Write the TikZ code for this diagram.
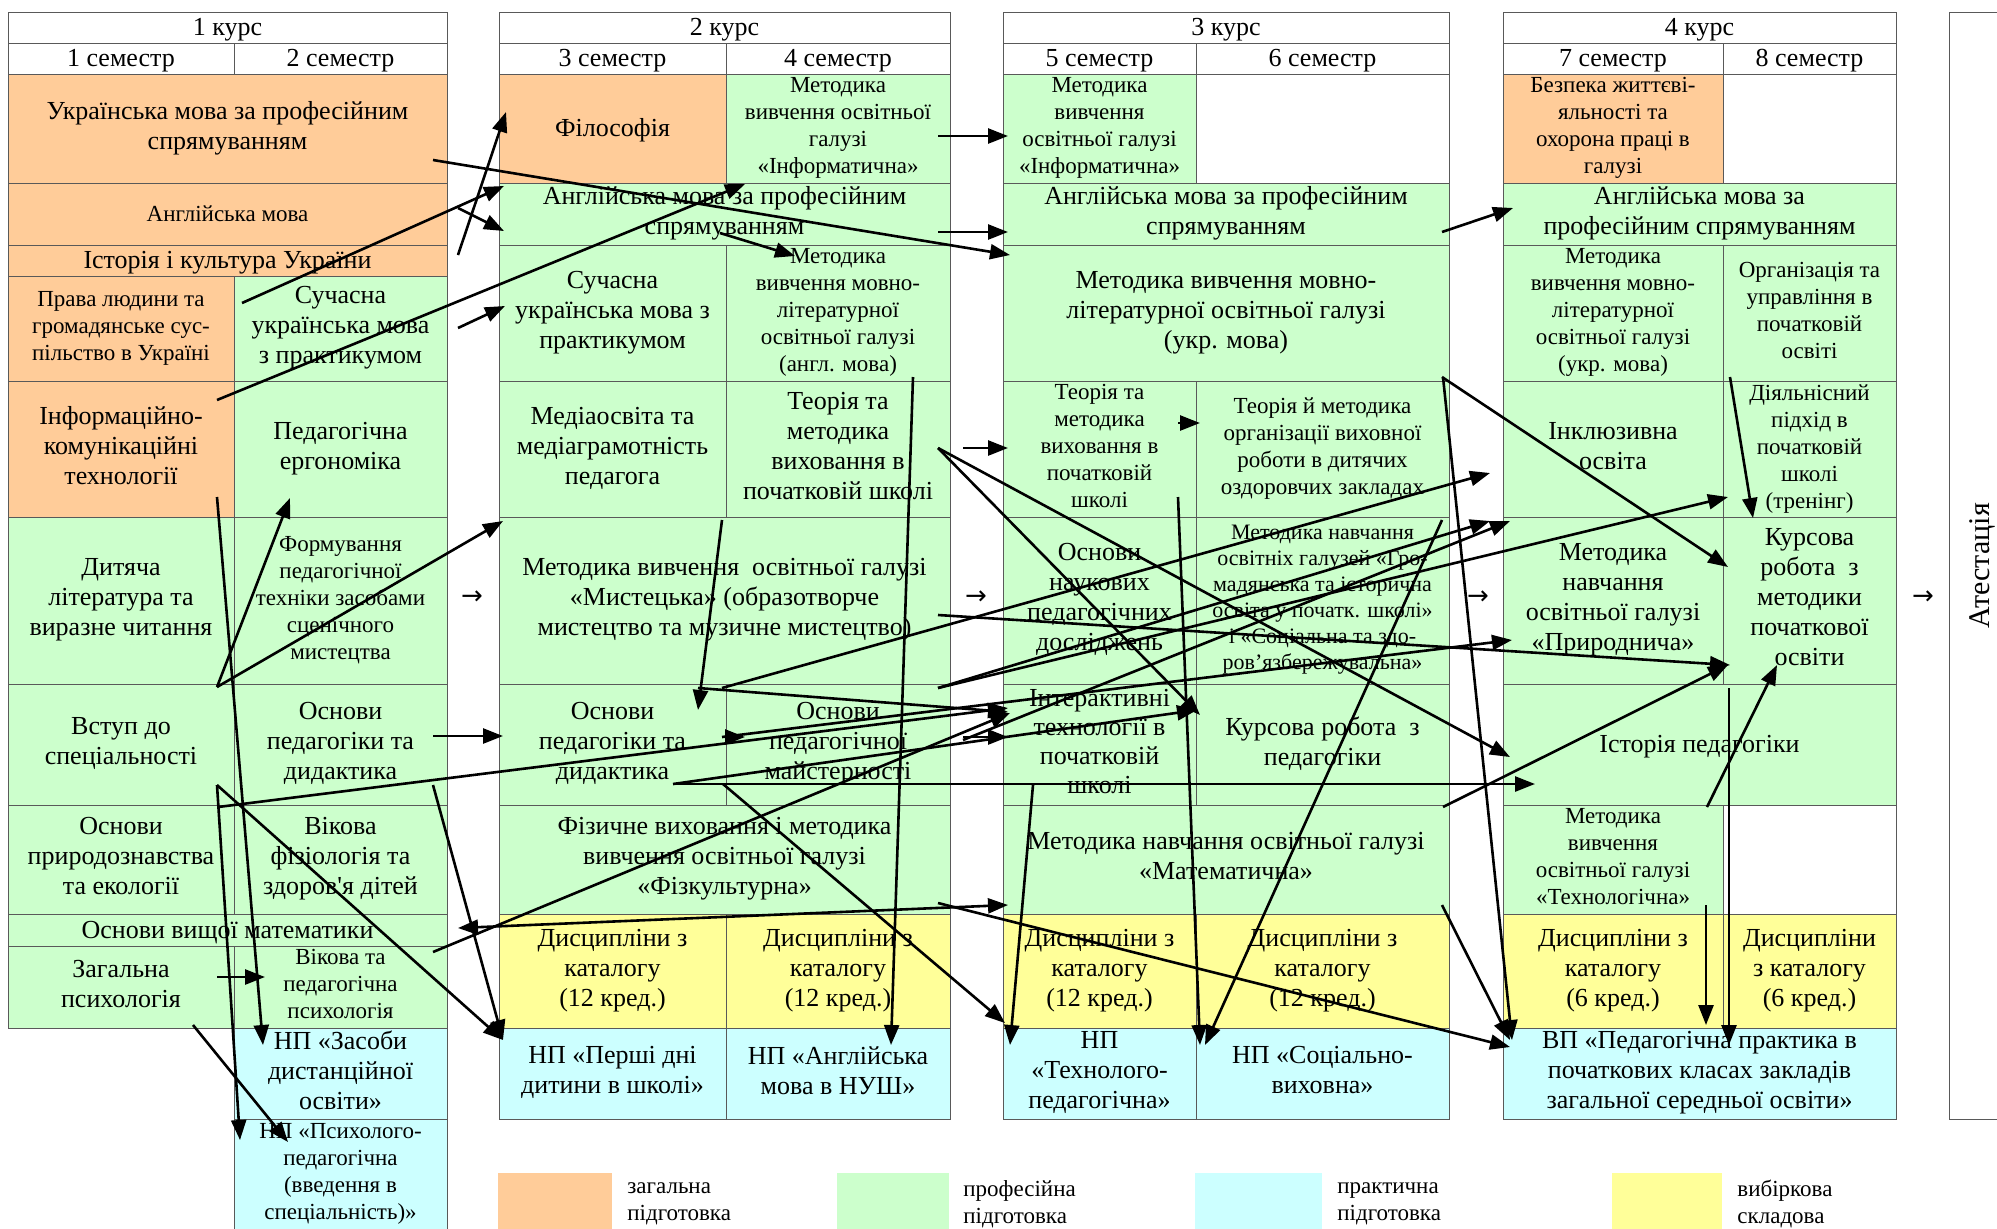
\documentclass[tikz,border=0pt]{standalone}
\usepackage{fontspec}
\setmainfont{Liberation Serif}
\newfontfamily\apofont{Liberation Serif}[Ligatures=TeXOff]
\newfontfamily\symfont{DejaVu Sans}
\usepackage{xcolor}
\usetikzlibrary{arrows.meta}
\definecolor{genc}{HTML}{FFCC99}
\definecolor{profc}{HTML}{CCFFCC}
\definecolor{pracc}{HTML}{CCFFFF}
\definecolor{optc}{HTML}{FFFF99}
\newcommand{\cstrut}{\rule[-0.25em]{0pt}{1.15em}}
% клітинка схеми: [стиль]{ім'я}{x1}{y1}{x2}{y2}{текст}
\newcommand{\cellbox}[7][]{\node[cell,#1,minimum width={(#5-#3)*0.5pt},minimum height={(#6-#4)*0.5pt}] (#2) at ({(#3+#5)/2},{(#4+#6)/2}) {#7};}

\begin{document}
\begin{tikzpicture}[x=0.5pt,y=-0.5pt,
  cell/.style={draw=black!65,line width=0.5pt,inner sep=0pt,outer sep=0pt,align=center,
    font=\fontsize{13}{15}\selectfont,
    execute at begin node=\cstrut,execute at end node=\cstrut},
  sm/.style={font=\fontsize{11.5}{13.5}\selectfont},
  xs/.style={font=\fontsize{11}{13}\selectfont},
  gen/.style={fill=genc},prof/.style={fill=profc},prac/.style={fill=pracc},opt/.style={fill=optc},
  swatch/.style={draw=none},
  arr/.style={line width=1.3pt,-{Triangle[length=10pt,width=7.5pt]}},
  arrs/.style={line width=1.3pt,{Triangle[length=10pt,width=7.5pt]}-{Triangle[length=10pt,width=7.5pt]}},
  legtext/.style={anchor=west,align=left,inner sep=0pt,font=\fontsize{11.5}{13.5}\selectfont},
  nxt/.style={inner sep=0pt,font=\symfont\fontsize{13}{14}\selectfont}]
\useasboundingbox (0,0) rectangle (1997,1228);

% 1 курс
\cellbox{k1}{8}{12}{447}{43}{1 курс}
\cellbox{s1}{8}{43}{234}{74}{1 семестр}
\cellbox{s2}{234}{43}{447}{74}{2 семестр}
\cellbox[gen]{c1a}{8}{74}{447}{183}{Українська мова за професійним\\спрямуванням}
\cellbox[gen,sm]{c1b}{8}{183}{447}{245}{Англійська мова}
\cellbox[gen]{c1c}{8}{245}{447}{276}{Історія і культура України}
\cellbox[gen,sm]{c1d}{8}{276}{234}{381}{Права людини та\\громадянське сус-\\пільство в Україні}
\cellbox[prof]{c1e}{234}{276}{447}{381}{Сучасна\\українська мова\\з практикумом}
\cellbox[gen]{c1f}{8}{381}{234}{517}{Інформаційно-\\комунікаційні\\технології}
\cellbox[prof]{c1g}{234}{381}{447}{517}{Педагогічна\\ергономіка}
\cellbox[prof]{c1h}{8}{517}{234}{684}{Дитяча\\література та\\виразне читання}
\cellbox[prof,sm]{c1i}{234}{517}{447}{684}{Формування\\педагогічної\\техніки засобами\\сценічного\\мистецтва}
\cellbox[prof]{c1j}{8}{684}{234}{805}{Вступ до\\спеціальності}
\cellbox[prof]{c1k}{234}{684}{447}{805}{Основи\\педагогіки та\\дидактика}
\cellbox[prof]{c1l}{8}{805}{234}{914}{Основи\\природознавства\\та екології}
\cellbox[prof]{c1m}{234}{805}{447}{914}{Вікова\\фізіологія та\\здоров{\apofont '}я дітей}
\cellbox[prof]{c1n}{8}{914}{447}{946}{Основи вищої математики}
\cellbox[prof]{c1o}{8}{946}{234}{1028}{Загальна\\психологія}
\cellbox[prof,sm]{c1p}{234}{946}{447}{1028}{Вікова та\\педагогічна\\психологія}
\cellbox[prac]{c1q}{234}{1028}{447}{1119}{НП «Засоби\\дистанційної\\освіти»}
\cellbox[prac,sm]{c1r}{234}{1119}{447}{1230}{НП «Психолого-\\педагогічна\\(введення в\\спеціальність)»}

% 2 курс
\cellbox{k2}{499}{12}{950}{43}{2 курс}
\cellbox{s3}{499}{43}{726}{74}{3 семестр}
\cellbox{s4}{726}{43}{950}{74}{4 семестр}
\cellbox[gen]{c2a}{499}{74}{726}{183}{Філософія}
\cellbox[prof,sm]{c2b}{726}{74}{950}{183}{Методика\\вивчення освітньої\\галузі\\«Інформатична»}
\cellbox[prof]{c2c}{499}{183}{950}{245}{Англійська мова за професійним\\спрямуванням}
\cellbox[prof]{c2d}{499}{245}{726}{381}{Сучасна\\українська мова з\\практикумом}
\cellbox[prof,sm]{c2e}{726}{245}{950}{381}{Методика\\вивчення мовно-\\літературної\\освітньої галузі\\(англ. мова)}
\cellbox[prof]{c2f}{499}{381}{726}{517}{Медіаосвіта та\\медіаграмотність\\педагога}
\cellbox[prof]{c2g}{726}{381}{950}{517}{Теорія та\\методика\\виховання в\\початковій школі}
\cellbox[prof]{c2h}{499}{517}{950}{684}{Методика вивчення\ \ освітньої галузі\\«Мистецька» (образотворче\\мистецтво та музичне мистецтво)}
\cellbox[prof]{c2i}{499}{684}{726}{805}{Основи\\педагогіки та\\дидактика}
\cellbox[prof]{c2j}{726}{684}{950}{805}{Основи\\педагогічної\\майстерності}
\cellbox[prof]{c2k}{499}{805}{950}{914}{Фізичне виховання і методика\\вивчення освітньої галузі\\«Фізкультурна»}
\cellbox[opt]{c2l}{499}{914}{726}{1028}{Дисципліни з\\каталогу\\(12 кред.)}
\cellbox[opt]{c2m}{726}{914}{950}{1028}{Дисципліни з\\каталогу\\(12 кред.)}
\cellbox[prac]{c2n}{499}{1028}{726}{1119}{НП «Перші дні\\дитини в школі»}
\cellbox[prac]{c2o}{726}{1028}{950}{1119}{НП «Англійська\\мова в НУШ»}

% 3 курс
\cellbox{k3}{1003}{12}{1449}{43}{3 курс}
\cellbox{s5}{1003}{43}{1196}{74}{5 семестр}
\cellbox{s6}{1196}{43}{1449}{74}{6 семестр}
\cellbox[prof,sm]{c3a}{1003}{74}{1196}{183}{Методика\\вивчення\\освітньої галузі\\«Інформатична»}
\cellbox{c3b}{1196}{74}{1449}{183}{}
\cellbox[prof]{c3c}{1003}{183}{1449}{245}{Англійська мова за професійним\\спрямуванням}
\cellbox[prof]{c3d}{1003}{245}{1449}{381}{Методика вивчення мовно-\\літературної освітньої галузі\\(укр. мова)}
\cellbox[prof,sm]{c3e}{1003}{381}{1196}{517}{Теорія та\\методика\\виховання в\\початковій\\школі}
\cellbox[prof,sm]{c3f}{1196}{381}{1449}{517}{Теорія й методика\\організації виховної\\роботи в дитячих\\оздоровчих закладах}
\cellbox[prof]{c3g}{1003}{517}{1196}{684}{Основи\\наукових\\педагогічних\\досліджень}
\cellbox[prof,xs]{c3h}{1196}{517}{1449}{684}{Методика навчання\\освітніх галузей «Гро-\\мадянська та історична\\освіта у початк. школі»\\і «Соціальна та здо-\\ров’язбережувальна»}
\cellbox[prof,font=\fontsize{13}{14.5}\selectfont]{c3i}{1003}{684}{1196}{805}{Інтерактивні\\технології в\\початковій\\школі}
\cellbox[prof]{c3j}{1196}{684}{1449}{805}{Курсова робота\ \ з\\педагогіки}
\cellbox[prof]{c3k}{1003}{805}{1449}{914}{Методика навчання освітньої галузі\\«Математична»}
\cellbox[opt]{c3l}{1003}{914}{1196}{1028}{Дисципліни з\\каталогу\\(12 кред.)}
\cellbox[opt]{c3m}{1196}{914}{1449}{1028}{Дисципліни з\\каталогу\\(12 кред.)}
\cellbox[prac]{c3n}{1003}{1028}{1196}{1119}{НП\\«Технолого-\\педагогічна»}
\cellbox[prac]{c3o}{1196}{1028}{1449}{1119}{НП «Соціально-\\виховна»}

% 4 курс
\cellbox{k4}{1503}{12}{1896}{43}{4 курс}
\cellbox{s7}{1503}{43}{1723}{74}{7 семестр}
\cellbox{s8}{1723}{43}{1896}{74}{8 семестр}
\cellbox[gen,sm]{c4a}{1503}{74}{1723}{183}{Безпека життєві-\\яльності та\\охорона праці в\\галузі}
\cellbox{c4b}{1723}{74}{1896}{183}{}
\cellbox[prof]{c4c}{1503}{183}{1896}{245}{Англійська мова за\\професійним спрямуванням}
\cellbox[prof,sm]{c4d}{1503}{245}{1723}{381}{Методика\\вивчення мовно-\\літературної\\освітньої галузі\\(укр. мова)}
\cellbox[prof,sm]{c4e}{1723}{245}{1896}{381}{Організація та\\управління в\\початковій\\освіті}
\cellbox[prof]{c4f}{1503}{381}{1723}{517}{Інклюзивна\\освіта}
\cellbox[prof,sm]{c4g}{1723}{381}{1896}{517}{Діяльнісний\\підхід в\\початковій\\школі\\(тренінг)}
\cellbox[prof]{c4h}{1503}{517}{1723}{684}{Методика\\навчання\\освітньої галузі\\«Природнича»}
\cellbox[prof]{c4i}{1723}{517}{1896}{684}{Курсова\\робота\ \ з\\методики\\початкової\\освіти}
\cellbox[prof]{c4j}{1503}{684}{1896}{805}{Історія педагогіки}
\cellbox[prof,sm]{c4k}{1503}{805}{1723}{914}{Методика\\вивчення\\освітньої галузі\\«Технологічна»}
\cellbox{c4l}{1723}{805}{1896}{914}{}
\cellbox[opt]{c4m}{1503}{914}{1723}{1028}{Дисципліни з\\каталогу\\(6 кред.)}
\cellbox[opt]{c4n}{1723}{914}{1896}{1028}{Дисципліни\\з каталогу\\(6 кред.)}
\cellbox[prac]{c4o}{1503}{1028}{1896}{1119}{ВП «Педагогічна практика в\\початкових класах закладів\\загальної середньої освіти»}

% атестація
\cellbox{atest}{1949}{12}{2030}{1119}{}
\node[rotate=90,inner sep=0pt,font=\fontsize{15}{17}\selectfont] (atlbl) at (1982,566) {Атестація};

% переходи між курсами
\node[nxt] (n1) at (472,598) {→};
\node[nxt] (n2) at (976,598) {→};
\node[nxt] (n3) at (1478,598) {→};
\node[nxt] (n4) at (1923,598) {→};

% легенда
\cellbox[gen,swatch]{lg1}{498}{1173}{612}{1240}{}
\node[legtext] (lt1) at (627,1204) {загальна\\підготовка};
\cellbox[prof,swatch]{lg2}{837}{1173}{949}{1240}{}
\node[legtext] (lt2) at (963,1204) {професійна\\підготовка};
\cellbox[prac,swatch]{lg3}{1195}{1173}{1322}{1240}{}
\node[legtext] (lt3) at (1337,1204) {практична\\підготовка};
\cellbox[opt,swatch]{lg4}{1612}{1173}{1722}{1240}{}
\node[legtext] (lt4) at (1737,1204) {вибіркова\\складова};

% зв'язки
\draw[arr] ([shift={(425,86)}]c1a.north west) -- ([shift={(7,10)}]c3d.north west);
\draw[arr] ([shift={(450,10)}]c1c.north west) -- ([shift={(7,38)}]c2a.north west);
\draw[arr] ([shift={(450,25)}]c1b.north west) -- ([shift={(5,48)}]c2c.north west);
\draw[arr] ([shift={(8,27)}]c1e.north west) -- ([shift={(5,3)}]c2c.north west);
\draw[arr] ([shift={(209,19)}]c1f.north west) -- ([shift={(19,110)}]c2b.north west);
\draw[arr] ([shift={(224,52)}]c1e.north west) -- ([shift={(6,61)}]c2d.north west);
\draw[arr] ([shift={(221,50)}]c2c.north west) -- ([shift={(69,11)}]c2e.north west);
\draw[arr] ([shift={(212,62)}]c2b.north west) -- ([shift={(5,62)}]c3a.north west);
\draw[arr] ([shift={(439,49)}]c2c.north west) -- ([shift={(5,49)}]c3c.north west);
\draw[arr] ([shift={(439,49)}]c3c.north west) -- ([shift={(10,25)}]c4c.north west);
\draw[arr] ([shift={(439,132)}]c3d.north west) -- ([shift={(5,50)}]c4i.north west);
\draw[arr] ([shift={(187,132)}]c2e.north west) -- ([shift={(165,17)}]c2o.north west);
\draw[arr] ([shift={(237,67)}]c2g.north west) -- ([shift={(5,67)}]c3e.north west);
\draw[arr] ([shift={(212,67)}]c2g.north west) -- ([shift={(7,73)}]c4j.north west);
\draw[arr] ([shift={(212,67)}]c2g.north west) -- ([shift={(4,31)}]c3j.north west);
\draw[arr] ([shift={(175,42)}]c3e.north west) -- ([shift={(4,42)}]c3f.north west);
\draw[arr] ([shift={(175,116)}]c3e.north west) -- ([shift={(4,17)}]c3o.north west);
\draw[arr] ([shift={(246,3)}]c3h.north west) -- ([shift={(9,17)}]c3o.north west);
\draw[arr] ([shift={(440,132)}]c3d.north west) -- ([shift={(9,12)}]c4o.north west);
\draw[arr] ([shift={(439,100)}]c3k.north west) -- ([shift={(7,12)}]c4o.north west);
\draw[arr] ([shift={(199,6)}]c1p.north west) -- ([shift={(7,29)}]c3i.north west);
\draw[arr] ([shift={(209,116)}]c1f.north west) -- ([shift={(29,17)}]c1q.north west);
\draw[arr] ([shift={(209,101)}]c1j.north west) -- ([shift={(6,21)}]c1r.north west);
\draw[arr] ([shift={(209,101)}]c1j.north west) -- ([shift={(4,12)}]c2n.north west);
\draw[arr] ([shift={(199,101)}]c1k.north west) -- ([shift={(4,12)}]c2n.north west);
\draw[arr] ([shift={(439,98)}]c2k.north west) -- ([shift={(7,19)}]c4o.north west);
\draw[arr] ([shift={(223,4)}]c2i.north west) -- ([shift={(-13,92)}]c4f.north west);
\draw[arr] ([shift={(439,98)}]c2h.north west) -- ([shift={(7,148)}]c4i.north west);
\draw[arr] ([shift={(439,171)}]c2h.north west) -- ([shift={(-13,4)}]c4h.north west);
\draw[arr] ([shift={(439,171)}]c2h.north west) -- ([shift={(5,116)}]c4g.north west);
\draw[arr] ([shift={(237,56)}]c2j.north west) -- ([shift={(7,4)}]c4h.north west);
\draw[arr] ([shift={(223,53)}]c2i.north west) -- ([shift={(9,123)}]c4h.north west);
\draw[arr] ([shift={(440,2)}]c3k.north west) -- ([shift={(5,148)}]c4i.north west);
\draw[arr] ([shift={(7,132)}]c4e.north west) -- ([shift={(30,1)}]c4i.north west);
\draw[arr] ([shift={(204,2)}]c4k.north west) -- ([shift={(54,148)}]c4i.north west);
\draw[arr] ([shift={(226,4)}]c4j.north west) -- ([shift={(226,17)}]c4o.north west);
\draw[arr] ([shift={(203,100)}]c4k.north west) -- ([shift={(203,-3)}]c4o.north west);
\draw[arr] ([shift={(223,53)}]c2i.north west) -- ([shift={(19,53)}]c2j.north west);
\draw[arr] ([shift={(174,100)}]c2i.north west) -- ([shift={(32,100)}]c4j.north west);
\draw[arr] ([shift={(174,100)}]c2i.north west) -- ([shift={(1,26)}]c3j.north west);
\draw[arr] ([shift={(224,100)}]c2i.north west) -- ([shift={(2,-5)}]c3n.north west);
\draw[arr] ([shift={(30,101)}]c3i.north west) -- ([shift={(7,17)}]c3n.north west);
\draw[arr] ([shift={(237,53)}]c2j.north west) -- ([shift={(5,53)}]c3i.north west);
\draw[arr] ([shift={(199,4)}]c2i.north west) -- ([shift={(5,28)}]c3i.north west);
\draw[arr] ([shift={(223,3)}]c2h.north west) -- ([shift={(199,26)}]c2i.north west);
\draw[arr] ([shift={(209,31)}]c1o.north west) -- ([shift={(31,31)}]c1p.north west);
\draw[arr] ([shift={(185,79)}]c1o.north west) -- ([shift={(54,23)}]c1r.north west);
\draw[arr] ([shift={(199,52)}]c1k.north west) -- ([shift={(4,52)}]c2i.north west);
\draw[arr] ([shift={(210,2)}]c1l.north west) -- ([shift={(5,24)}]c3i.north west);
\draw[arr] ([shift={(209,3)}]c1j.north west) -- ([shift={(4,4)}]c2h.north west);
\draw[arr] ([shift={(209,3)}]c1j.north west) -- ([shift={(56,117)}]c1g.north west);
\draw[arrs] ([shift={(450,14)}]c1n.north west) -- ([shift={(5,100)}]c3k.north west);
\end{tikzpicture}
\end{document}
